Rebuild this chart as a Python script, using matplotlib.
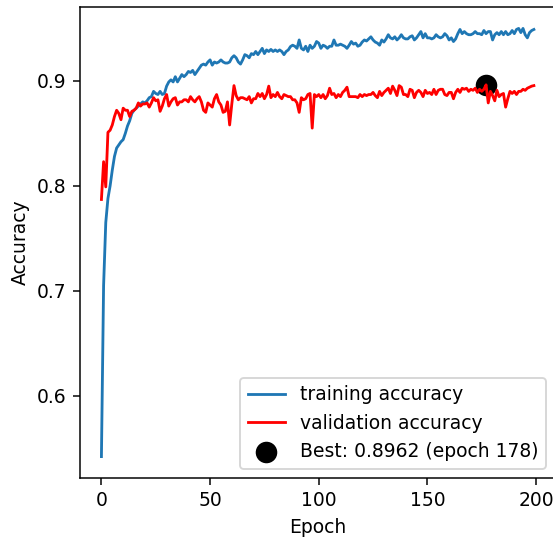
import matplotlib
matplotlib.use("Agg")
import matplotlib.pyplot as plt
from matplotlib.ticker import MultipleLocator

# accuracy per epoch
train_acc = [
    0.542, 0.705, 0.765, 0.788, 0.800, 0.815, 0.828, 0.836, 0.839, 0.842,
    0.844, 0.850, 0.857, 0.862, 0.869, 0.872, 0.874, 0.876, 0.878, 0.880,
    0.879, 0.881, 0.884, 0.885, 0.890, 0.888, 0.887, 0.890, 0.887, 0.888,
    0.895, 0.899, 0.901, 0.899, 0.904, 0.899, 0.9025, 0.906, 0.904, 0.906,
    0.909, 0.908, 0.910, 0.906, 0.909, 0.912, 0.915, 0.916, 0.915, 0.918,
    0.920, 0.915, 0.918, 0.917, 0.918, 0.920, 0.918, 0.917, 0.917, 0.918,
    0.922, 0.924, 0.922, 0.918, 0.916, 0.920, 0.925, 0.924, 0.922, 0.926,
    0.925, 0.928, 0.925, 0.928, 0.931, 0.926, 0.9295, 0.928, 0.930, 0.928,
    0.9295, 0.928, 0.9295, 0.928, 0.925, 0.928, 0.9295, 0.9327, 0.934, 0.933,
    0.931, 0.939, 0.931, 0.9295, 0.933, 0.928, 0.934, 0.931, 0.933, 0.9375,
    0.936, 0.931, 0.934, 0.933, 0.931, 0.933, 0.933, 0.939, 0.934, 0.934,
    0.935, 0.934, 0.933, 0.931, 0.934, 0.9375, 0.935, 0.936, 0.933, 0.934,
    0.937, 0.939, 0.938, 0.940, 0.942, 0.939, 0.937, 0.936, 0.934, 0.939,
    0.937, 0.940, 0.944, 0.941, 0.940, 0.942, 0.939, 0.941, 0.944, 0.941,
    0.940, 0.940, 0.942, 0.943, 0.939, 0.941, 0.944, 0.947, 0.941, 0.945,
    0.941, 0.941, 0.940, 0.941, 0.944, 0.942, 0.941, 0.942, 0.945, 0.943,
    0.939, 0.941, 0.9375, 0.940, 0.945, 0.949, 0.945, 0.947, 0.945, 0.944,
    0.944, 0.945, 0.947, 0.945, 0.945, 0.944, 0.948, 0.945, 0.947, 0.947,
    0.939, 0.944, 0.946, 0.944, 0.947, 0.944, 0.947, 0.944, 0.945, 0.948,
    0.945, 0.949, 0.950, 0.946, 0.950, 0.944, 0.941, 0.946, 0.948, 0.949,
]

val_acc = [
    0.787, 0.823, 0.799, 0.851, 0.853, 0.858, 0.866, 0.872, 0.869, 0.863,
    0.874, 0.872, 0.872, 0.866, 0.871, 0.872, 0.874, 0.879, 0.876, 0.878,
    0.878, 0.879, 0.875, 0.879, 0.884, 0.881, 0.882, 0.871, 0.876, 0.883,
    0.887, 0.876, 0.880, 0.883, 0.884, 0.877, 0.880, 0.880, 0.882, 0.882,
    0.880, 0.885, 0.882, 0.880, 0.883, 0.885, 0.880, 0.872, 0.870, 0.879,
    0.877, 0.875, 0.883, 0.887, 0.880, 0.877, 0.870, 0.871, 0.880, 0.858,
    0.878, 0.8955, 0.886, 0.882, 0.884, 0.884, 0.883, 0.882, 0.885, 0.879,
    0.883, 0.883, 0.888, 0.885, 0.888, 0.883, 0.887, 0.895, 0.884, 0.887,
    0.885, 0.889, 0.885, 0.883, 0.887, 0.886, 0.885, 0.885, 0.882, 0.882,
    0.879, 0.870, 0.884, 0.882, 0.883, 0.887, 0.888, 0.855, 0.887, 0.885,
    0.887, 0.884, 0.887, 0.883, 0.886, 0.893, 0.887, 0.888, 0.884, 0.887,
    0.885, 0.889, 0.891, 0.894, 0.885, 0.885, 0.885, 0.885, 0.884, 0.887,
    0.885, 0.887, 0.886, 0.887, 0.887, 0.889, 0.886, 0.884, 0.890, 0.886,
    0.889, 0.891, 0.893, 0.888, 0.895, 0.891, 0.886, 0.8955, 0.894, 0.887,
    0.887, 0.885, 0.892, 0.891, 0.884, 0.889, 0.891, 0.889, 0.885, 0.891,
    0.888, 0.889, 0.887, 0.892, 0.887, 0.891, 0.892, 0.892, 0.887, 0.886,
    0.889, 0.889, 0.883, 0.889, 0.892, 0.889, 0.893, 0.892, 0.893, 0.890,
    0.892, 0.891, 0.893, 0.889, 0.892, 0.890, 0.892, 0.8962, 0.879, 0.890,
    0.886, 0.881, 0.891, 0.885, 0.887, 0.888, 0.875, 0.883, 0.890, 0.888,
    0.890, 0.887, 0.890, 0.890, 0.892, 0.891, 0.893, 0.894, 0.895, 0.8955,
]

epochs = list(range(len(train_acc)))

best_idx = max(range(len(val_acc)), key=lambda i: val_acc[i])
best_val = val_acc[best_idx]

# the reference was drawn at a larger scale, so use a higher dpi
dpi = 135
fig = plt.figure(figsize=(553 / dpi, 537 / dpi), dpi=dpi)
# right spine sits just past the picture edge, as in the reference
ax = fig.add_axes([79.8 / 553, 1 - 478 / 537, 475.7 / 553, 471 / 537])

ax.plot(epochs, train_acc, label='training accuracy')
ax.plot(epochs, val_acc, color='red', label='validation accuracy')
ax.scatter(best_idx, best_val, s=110, color='black',
           label=f'Best: {best_val:.4f} (epoch {best_idx + 1})')

ax.yaxis.set_major_locator(MultipleLocator(0.1))
ax.xaxis.set_major_locator(MultipleLocator(50))
ax.set_xlabel('Epoch')
ax.set_ylabel('Accuracy')
ax.legend(loc='lower right')

fig.savefig('out.png', dpi=dpi)
